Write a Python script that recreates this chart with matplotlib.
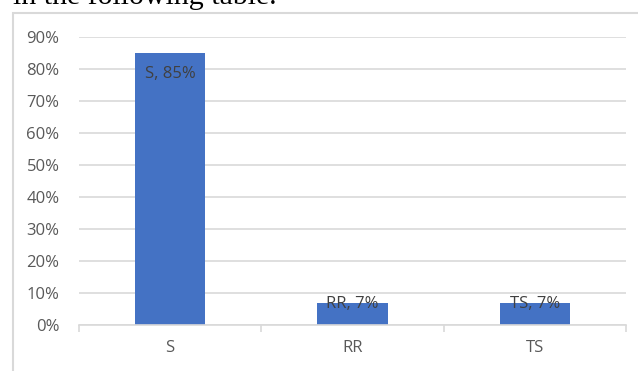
import matplotlib
matplotlib.use("Agg")
import matplotlib.pyplot as plt
from matplotlib.patches import Rectangle
from matplotlib.ticker import MultipleLocator, PercentFormatter

# ── Data ────────────────────────────────────────────────────────────────
categories = ["S", "RR", "TS"]
shares     = [0.85, 0.07, 0.07]

BAR_COLOR  = "#4472C4"
GRID_COLOR = "#d9d9d9"
TEXT_COLOR = "#595959"
LABEL_COLOR = "#404040"
FONT = ["Open Sans", "DejaVu Sans"]
FS = 12

fig = plt.figure(figsize=(6.38, 3.71), dpi=100)

# Sentence from the surrounding document, cut off by the top edge
fig.text(13/638, 1 - 4/371, "in the following table.", family="Liberation Serif",
         fontsize=21.5, color="black", ha="left", va="baseline")

# Chart frame
fig.patches.append(Rectangle((13/638, -0.05), 1.0, 1 - 13/371 + 0.05,
                             transform=fig.transFigure, fill=False,
                             edgecolor=GRID_COLOR, linewidth=1.5))

ax = fig.add_axes([79/638, 1 - 325/371, 547/638, 288/371])

x = range(len(categories))
bars = ax.bar(x, shares, width=0.385, color=BAR_COLOR, zorder=3)

ax.set_xlim(-0.5, len(categories) - 0.5)
ax.set_ylim(0, 0.9)
ax.yaxis.set_major_locator(MultipleLocator(0.1))
ax.yaxis.set_major_formatter(PercentFormatter(1.0, decimals=0))
ax.grid(axis="y", color=GRID_COLOR, linewidth=1.2, zorder=0)

for s in ["top", "right", "left"]:
    ax.spines[s].set_visible(False)
ax.spines["bottom"].set_color(GRID_COLOR)
ax.spines["bottom"].set_linewidth(1.2)
ax.spines["bottom"].set_zorder(4)

ax.set_xticks(list(x))
ax.set_xticklabels(categories, family=FONT, fontsize=FS, color=TEXT_COLOR)
ax.tick_params(axis="x", length=0, pad=11)
ax.set_xticks([i - 0.5 for i in range(len(categories) + 1)], minor=True)
ax.tick_params(axis="x", which="minor", length=5, color=GRID_COLOR, width=1.2)
ax.tick_params(axis="y", length=0, pad=14, labelcolor=TEXT_COLOR)
for lbl in ax.get_yticklabels():
    lbl.set_family(FONT)
    lbl.set_fontsize(FS)

# Data labels: "category, value"
for bar, cat, val in zip(bars, categories, shares):
    cx = bar.get_x() + bar.get_width() / 2
    text = f"{cat}, {val:.0%}"
    if val > 0.2:
        ax.annotate(text, (cx, val), xytext=(0, -9), textcoords="offset points",
                    ha="center", va="top", family=FONT, fontsize=FS,
                    color=LABEL_COLOR, zorder=5)
    else:
        ax.annotate(text, (cx, val), xytext=(0, -1), textcoords="offset points",
                    ha="center", va="center", family=FONT, fontsize=FS,
                    color=LABEL_COLOR, zorder=5)

plt.savefig("out.png", dpi=100)
plt.close()
